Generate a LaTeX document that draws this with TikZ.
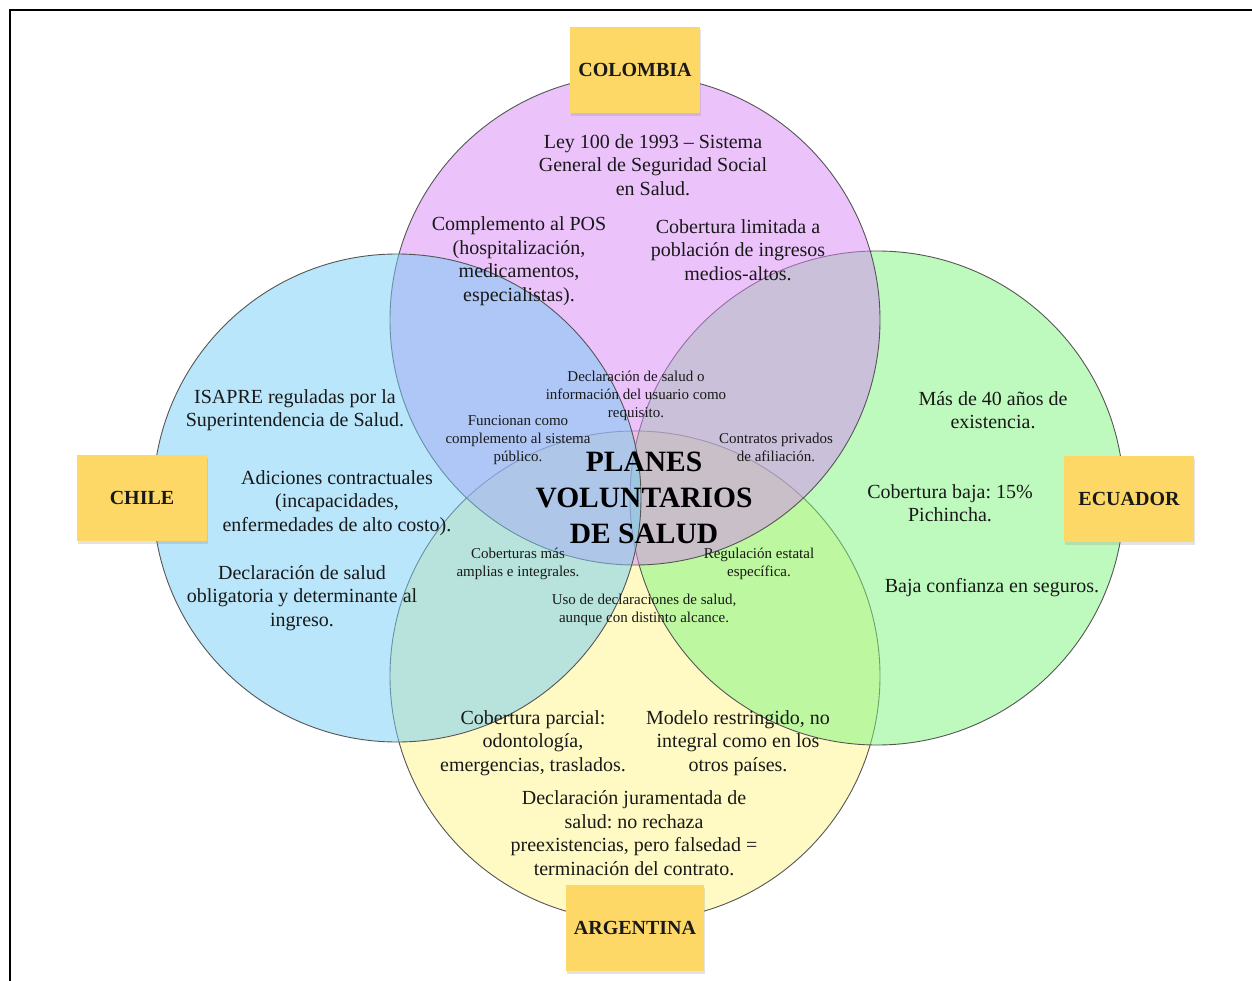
\documentclass[tikz,border=0pt]{standalone}
\usepackage{fontspec}
\setmainfont{Liberation Serif}
\usepackage{xcolor}
\usetikzlibrary{shadows}
\frenchspacing

\definecolor{colfill}{RGB}{215,135,245}
\definecolor{chifill}{RGB}{115,205,245}
\definecolor{ecufill}{RGB}{125,245,125}
\definecolor{argfill}{RGB}{255,245,135}
\definecolor{etiq}{RGB}{254,216,102}
\definecolor{borde}{RGB}{85,85,85}
\definecolor{tinta}{RGB}{25,25,25}

\begin{document}
\begin{tikzpicture}[x=1pt, y=-1pt,
  venn/.style={draw=borde, line width=0.9pt, fill opacity=0.5},
  pais/.style={rectangle, fill=etiq, minimum width=130pt, minimum height=86pt, font=\fontsize{20}{24}\selectfont\bfseries, text=tinta, drop shadow={opacity=0.22, shadow xshift=1pt, shadow yshift=-3pt}},
  texto/.style={align=center, font=\fontsize{20}{23.5}\selectfont, text=tinta, inner sep=1pt},
  nota/.style={align=center, font=\fontsize{15}{18}\selectfont, text=tinta, inner sep=1pt},
  titulo/.style={align=center, font=\fontsize{29.5}{36}\selectfont\bfseries, text=black, inner sep=1pt}
]
\useasboundingbox (0,0) rectangle (1252,981);
\draw[line width=2.2pt] (10,981) -- (10,10) -- (1252,10);

% circulos
\coordinate (cArg) at (635,676);
\coordinate (cEcu) at (877,498);
\coordinate (cCol) at (635,320);
\coordinate (cChi) at (397,498);
\draw[venn, fill=argfill] (cArg) circle[radius=245pt];
\draw[venn, fill=ecufill] (cEcu) circle[radius=247pt];
\draw[venn, fill=colfill] (cCol) circle[radius=245pt];
\draw[venn, fill=chifill] (cChi) circle[radius=244pt];

% etiquetas
\node[pais] (colombia) at (635,70) {COLOMBIA};
\node[pais] (chile) at (142,498) {CHILE};
\node[pais] (ecuador) at (1129,499) {ECUADOR};
\node[pais, minimum width=138pt] (argentina) at (635,928) {ARGENTINA};

% Colombia
\node[texto] (ley) at (653,165) {Ley 100 de 1993 -- Sistema\\General de Seguridad Social\\en Salud.};
\node[texto] (pos) at (519,261) {Complemento al POS\\(hospitalización,\\medicamentos,\\especialistas).};
\node[texto] (limitada) at (738,250) {Cobertura limitada a\\población de ingresos\\medios-altos.};

% Chile
\node[texto] (isapre) at (295,410) {ISAPRE reguladas por la\\Superintendencia de Salud.};
\node[texto] (adiciones) at (337,503) {Adiciones contractuales\\(incapacidades,\\enfermedades de alto costo).};
\node[texto] (obligatoria) at (302,598) {Declaración de salud\\obligatoria y determinante al\\ingreso.};

% Ecuador
\node[texto] (cuarenta) at (993,410) {Más de 40 años de\\existencia.};
\node[texto] (baja) at (950,503) {Cobertura baja: 15\%\\Pichincha.};
\node[texto] (confianza) at (992,588) {Baja confianza en seguros.};

% Argentina
\node[texto] (parcial) at (533,743) {Cobertura parcial:\\odontología,\\emergencias, traslados.};
\node[texto] (modelo) at (738,743) {Modelo restringido, no\\integral como en los\\otros países.};
\node[texto] (jurada) at (634,833) {Declaración juramentada de\\salud: no rechaza\\preexistencias, pero falsedad =\\terminación del contrato.};

% intersecciones
\node[nota] (requisito) at (636,396) {Declaración de salud o\\información del usuario como\\requisito.};
\node[nota] (funcionan) at (518,440) {Funcionan como\\complemento al sistema\\público.};
\node[nota] (contratos) at (776,447) {Contratos privados\\de afiliación.};
\node[nota] (amplias) at (518,564) {Coberturas más\\amplias e integrales.};
\node[nota] (regulacion) at (759,564) {Regulación estatal\\específica.};
\node[nota] (uso) at (644,610) {Uso de declaraciones de salud,\\aunque con distinto alcance.};

\node[titulo] (planes) at (644,498) {PLANES\\VOLUNTARIOS\\DE SALUD};
\end{tikzpicture}
\end{document}
